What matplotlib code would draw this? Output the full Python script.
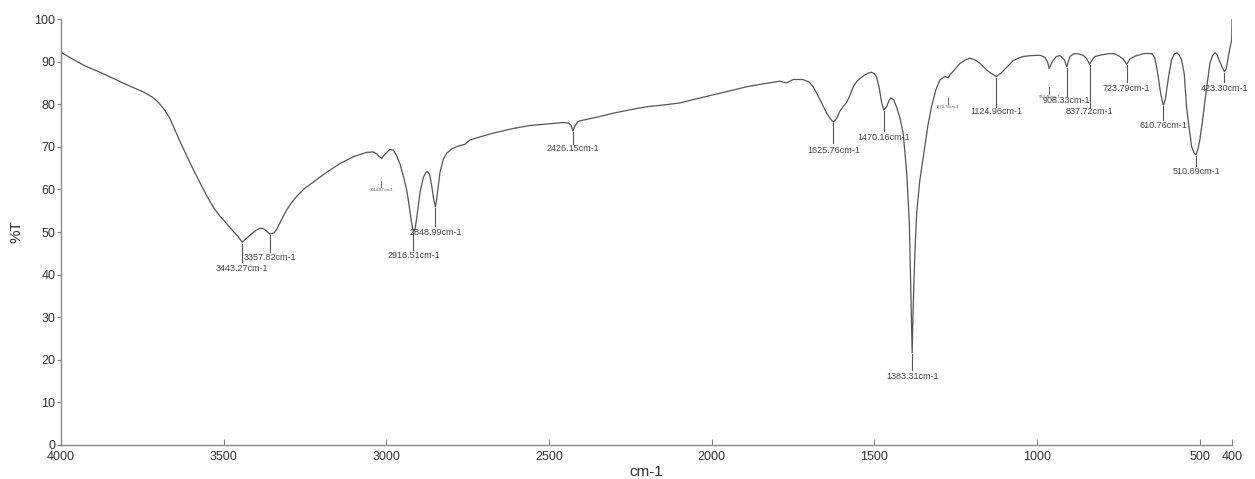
import matplotlib
matplotlib.use("Agg")
import matplotlib.pyplot as plt

plt.rcParams['font.family'] = ['Liberation Sans', 'DejaVu Sans']

# Spectrum trace: wavenumber (cm-1) and %T
wavenumber = [4000, 3960, 3921, 3880, 3829, 3790, 3747, 3720, 3700, 3680, 3665, 3650,
              3635, 3624, 3610, 3593, 3575, 3552, 3530, 3511, 3490, 3470, 3455,
              3443.27, 3430, 3415, 3400, 3388, 3378, 3368, 3357.82, 3345, 3337,
              3320, 3306, 3290, 3275, 3250, 3214, 3180, 3142, 3100, 3060, 3040,
              3030, 3022, 3014, 3005, 2989, 2978, 2968, 2958, 2948, 2937, 2932,
              2922, 2916.51, 2911, 2906, 2896, 2886, 2878, 2873, 2867, 2861, 2855,
              2848.99, 2845, 2835, 2825, 2814, 2799, 2785, 2773, 2758, 2743, 2700,
              2661, 2610, 2558, 2500, 2456, 2440, 2432, 2426.15, 2420, 2412, 2405,
              2350, 2302, 2250, 2200, 2150, 2097, 2050, 1995, 1940, 1892, 1840,
              1790, 1769, 1749, 1720, 1700, 1687, 1677, 1660, 1646, 1635, 1625.76,
              1615, 1606, 1595, 1585, 1575, 1565, 1554, 1544, 1530, 1518, 1508,
              1500, 1493, 1485, 1477, 1470.16, 1462, 1455, 1449, 1440, 1431, 1421,
              1411, 1400, 1392, 1387, 1383.31, 1380, 1375, 1369.6, 1360, 1349,
              1335, 1324, 1310, 1298, 1283, 1273, 1267, 1250, 1236, 1220, 1206,
              1190, 1175, 1154, 1140, 1124.96, 1110, 1095, 1073, 1055, 1042, 1020,
              990, 975, 967, 962, 955, 949, 940, 929, 915, 908.33, 902, 898, 888,
              878, 868, 858, 848, 837.72, 828, 821, 800, 775, 760, 745, 735, 723.79,
              714, 698, 670, 647, 638, 632, 626, 621, 615, 610.76, 605, 601, 594,
              586, 578, 570, 562, 555, 547, 540, 532, 524, 517, 510.69, 505, 499,
              491, 483, 475, 468, 460, 452, 446, 440, 432, 423.30, 418, 413, 407, 401, 400]
transmittance = [92.2, 90.4, 88.8, 87.5, 85.7, 84.3, 82.9, 81.7, 80.4, 78.5, 76.6, 74.0,
                 71.4, 69.6, 67.3, 64.6, 61.9, 58.5, 55.6, 53.7, 51.9, 50.1, 48.9,
                 47.6, 48.5, 49.5, 50.4, 50.9, 50.8, 50.2, 49.5, 49.8, 50.6,
                 53.2, 55.2, 57.0, 58.4, 60.3, 62.3, 64.2, 66.1, 67.7, 68.7, 68.8,
                 68.4, 67.7, 67.3, 68.2, 69.4, 69.2, 67.9, 66.0, 63.3, 59.8, 57.4,
                 52.0, 50.0, 50.9, 53.6, 59.4, 62.8, 64.0, 64.2, 63.5, 61.2, 58.0,
                 55.9, 57.8, 64.0, 67.0, 68.5, 69.5, 70.0, 70.3, 70.6, 71.6, 72.6,
                 73.4, 74.3, 75.0, 75.4, 75.7, 75.6, 75.1, 73.7, 74.9, 75.8, 76.1,
                 77.0, 77.9, 78.7, 79.4, 79.8, 80.3, 81.2, 82.2, 83.2, 84.1, 84.8,
                 85.4, 85.0, 85.8, 85.8, 85.2, 84.0, 82.6, 80.0, 77.9, 76.6, 75.8,
                 76.7, 78.3, 79.5, 80.4, 82.0, 84.0, 85.3, 86.0, 86.8, 87.3, 87.5,
                 87.2, 86.4, 84.0, 80.3, 78.6, 79.4, 80.8, 81.5, 81.0, 79.3, 76.8,
                 73.2, 63.8, 52.0, 35.0, 21.6, 33.0, 45.0, 54.4, 62.0, 67.7,
                 75.0, 79.4, 83.5, 85.7, 86.5, 86.2, 86.9, 88.4, 89.6, 90.4, 90.8,
                 90.4, 89.6, 88.0, 87.2, 86.5, 87.3, 88.5, 90.2, 90.9, 91.2, 91.4,
                 91.5, 91.0, 89.9, 88.4, 89.6, 90.4, 91.2, 91.4, 90.4, 88.8, 90.3, 91.2, 91.8,
                 91.9, 91.7, 91.5, 90.8, 89.4, 90.6, 91.2, 91.6, 91.9, 91.8, 91.2, 90.6, 89.4,
                 90.6, 91.3, 91.9, 91.9, 91.0, 88.8, 86.0, 83.3, 80.8, 79.8, 81.2, 83.3, 87.0,
                 90.4, 91.7, 92.1, 91.5, 90.4, 87.2, 79.4, 74.5, 70.0, 68.6, 68.1, 69.4, 71.6,
                 76.0, 81.0, 85.5, 89.6, 91.4, 92.1, 91.6, 90.4, 89.0, 87.6, 88.3, 90.4, 93.0, 95.1, 100.0]

# Peak labels
peak_wn = [3443.27, 3357.82, 2916.51, 2848.99, 2426.15, 1625.76, 1470.16, 1383.31,
           1124.96, 908.33, 837.72, 723.79, 610.76, 510.69, 423.30]
peak_t = [47.6, 49.5, 50.0, 55.9, 73.7, 75.8, 78.6, 21.6,
          86.5, 88.8, 89.4, 89.4, 79.8, 68.1, 87.6]
peak_text = ["3443.27cm-1", "3357.82cm-1", "2916.51cm-1", "2848.99cm-1", "2426.15cm-1",
             "1625.76cm-1", "1470.16cm-1", "1383.31cm-1", "1124.96cm-1", "908.33cm-1",
             "837.72cm-1", "723.79cm-1", "610.76cm-1", "510.69cm-1", "423.30cm-1"]
# layout: end of the drop line and the label centre (in %T units)
line_end = [43.0, 45.3, 45.8, 51.4, 70.7, 70.9, 73.7, 17.6, 79.3, 81.9, 79.3, 85.2, 76.3, 65.5, 85.2]
label_y = [41.5, 44.1, 44.6, 50.0, 69.7, 69.2, 72.3, 16.0, 78.2, 80.8, 78.2, 83.8, 75.1, 64.1, 83.8]

# tiny (illegible) peak markers
small_wn = [3014.87, 1273.74, 962.46]
small_t = [62.0, 81.5, 84.0]
small_text = ["3014.87cm-1", "1273.74cm-1", "962.46cm-1"]

xticks = [4000, 3500, 3000, 2500, 2000, 1500, 1000, 500, 400]
yticks = list(range(0, 101, 10))

fig = plt.figure(figsize=(12.55, 4.79), dpi=100)
ax = fig.add_axes([0.0486, 0.071, 0.9331, 0.8893])

line_col = '#555555'
ax.plot(wavenumber, transmittance, color=line_col, lw=0.9)

for w, t, e, ly, s in zip(peak_wn, peak_t, line_end, label_y, peak_text):
    ax.plot([w, w], [t - 0.3, e], color=line_col, lw=0.8)
    ax.text(w, ly, s, ha='center', va='center', fontsize=6.5, color='#444444')

for w, t, s in zip(small_wn, small_t, small_text):
    ax.plot([w, w], [t, t - 1.5], color=line_col, lw=0.6)
    ax.text(w, t - 2.2, s, ha='center', va='center', fontsize=3, color='#555555')

ax.set_xlim(4000, 400)
ax.set_ylim(0, 100)
ax.set_xticks(xticks)
ax.set_xticklabels([str(v) for v in xticks])
ax.set_yticks(yticks)
for side in ['top', 'right']:
    ax.spines[side].set_visible(False)
for side in ['left', 'bottom']:
    ax.spines[side].set_color('#888888')
    ax.spines[side].set_linewidth(1.0)
ax.tick_params(axis='x', direction='in', length=4, color='#888888', labelsize=9,
               labelcolor='#333333', pad=4)
ax.tick_params(axis='y', direction='out', length=3, color='#888888', labelsize=9,
               labelcolor='#333333', pad=1)
ax.set_xlabel('cm-1', fontsize=11, color='#333333', labelpad=2)
ax.set_ylabel('%T', fontsize=11, color='#333333', labelpad=8)

fig.savefig('out.png', dpi=100)
